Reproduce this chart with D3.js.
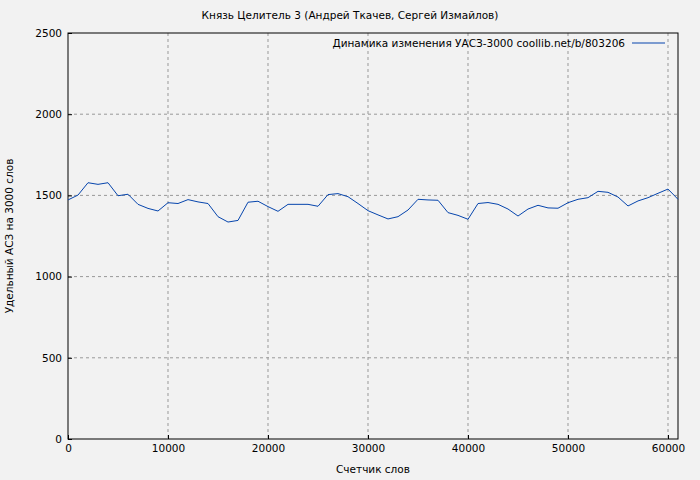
<!DOCTYPE html><html><head><meta charset="utf-8"><script src="https://d3js.org/d3.v7.min.js"></script>
<style>body{margin:0;background:#f2f2f2}svg{font-family:"DejaVu Sans",sans-serif}</style></head><body><script>
const xs = d3.range(0, 62000, 1000);
const values = [1472,1502,1578,1568,1578,1498,1507,1445,1420,1404,1455,1450,1474,1460,1450,1369,1336,1346,1458,1464,1431,1402,1445,1445,1445,1433,1505,1511,1492,1450,1406,1380,1355,1369,1410,1476,1472,1470,1394,1377,1353,1450,1456,1445,1416,1373,1416,1439,1423,1421,1455,1476,1486,1525,1519,1490,1435,1466,1486,1513,1539,1476];
const xTicks = [0,10000,20000,30000,40000,50000,60000];
const yTicks = [0,500,1000,1500,2000,2500];
const title = "Князь Целитель 3 (Андрей Ткачев, Сергей Измайлов)";
const legend = "Динамика изменения УАСЗ-3000 coollib.net/b/803206";
const W=700,H=480,L=68,R=678,T=33,B=439;
const svg=d3.select("body").append("svg").attr("width",W).attr("height",H);
svg.append("rect").attr("width",W).attr("height",H).attr("fill","#f2f2f2");
const x=d3.scaleLinear().domain([0,61000]).range([L,R]);
const y=d3.scaleLinear().domain([0,2500]).range([B,T]);
const g=svg.append("g");
xTicks.slice(1).forEach(t=>g.append("line").attr("x1",x(t)).attr("x2",x(t)).attr("y1",T).attr("y2",B).attr("stroke","#999").attr("stroke-dasharray","3,3"));
yTicks.slice(1,-1).forEach(t=>g.append("line").attr("x1",L).attr("x2",R).attr("y1",y(t)).attr("y2",y(t)).attr("stroke","#999").attr("stroke-dasharray","3,3"));
svg.append("rect").attr("x",L).attr("y",T).attr("width",R-L).attr("height",B-T).attr("fill","none").attr("stroke","#000");
const xa=svg.append("g").attr("transform",`translate(0,${B})`).call(d3.axisBottom(x).tickValues(xTicks).tickFormat(d3.format("d")).tickSize(-4).tickPadding(6));
const ya=svg.append("g").attr("transform",`translate(${L},0)`).call(d3.axisLeft(y).tickValues(yTicks).tickFormat(d3.format("d")).tickSize(-4).tickPadding(6));
[xa,ya].forEach(a=>{a.select(".domain").remove();a.selectAll("text").attr("font-size",10.5).attr("font-family","DejaVu Sans");});
svg.append("path").datum(values).attr("fill","none").attr("stroke","#0645ad").attr("stroke-width",1)
 .attr("d",d3.line().x((d,i)=>x(xs[i])).y(d=>y(d)));
svg.append("text").attr("x",W/2).attr("y",19).attr("text-anchor","middle").attr("font-size",10.5).text(title);
svg.append("text").attr("x",(L+R)/2).attr("y",473).attr("text-anchor","middle").attr("font-size",10.5).text("Счетчик слов");
svg.append("text").attr("transform",`translate(13,${(T+B)/2}) rotate(-90)`).attr("text-anchor","middle").attr("font-size",10.5).text("Удельный АСЗ на 3000 слов");
svg.append("text").attr("x",625).attr("y",47).attr("text-anchor","end").attr("font-size",10.5).text(legend);
svg.append("line").attr("x1",632).attr("x2",665).attr("y1",43).attr("y2",43).attr("stroke","#0645ad");
</script></body></html>
